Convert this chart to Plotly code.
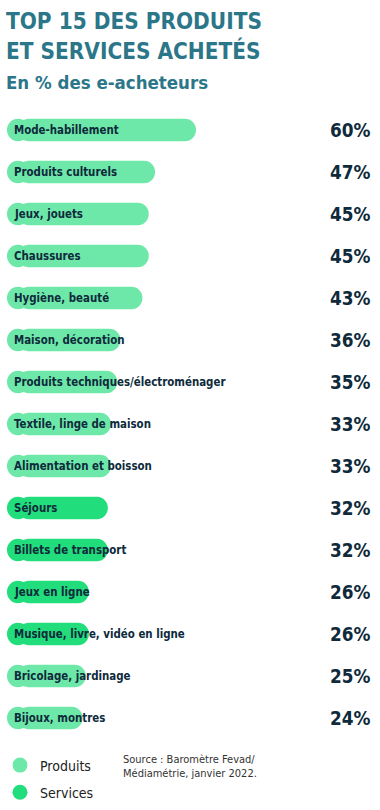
import plotly.graph_objects as go

categories = ["Mode-habillement", "Produits culturels", "Jeux, jouets", "Chaussures",
              "Hygiène, beauté", "Maison, décoration", "Produits techniques/électroménager",
              "Textile, linge de maison", "Alimentation et boisson", "Séjours",
              "Billets de transport", "Jeux en ligne", "Musique, livre, vidéo en ligne",
              "Bricolage, jardinage", "Bijoux, montres"]
values = [60, 47, 45, 45, 43, 36, 35, 33, 33, 32, 32, 26, 26, 25, 24]
types = ["Produits"] * 9 + ["Services"] * 4 + ["Produits"] * 2
value_labels = [f"{v}%" for v in values]
series_names = ["Produits", "Services"]
title_lines = ["TOP 15 DES PRODUITS", "ET SERVICES ACHETÉS"]
subtitle = "En % des e-acheteurs"
source_text = "Source : Baromètre Fevad/<br>Médiamétrie, janvier 2022."

colors = {"Produits": "#6EE8A9", "Services": "#22DD7B"}
TITLE_C = "#2B7688"
DARK = "#0E2A3B"
FONT = "DejaVu Sans, sans-serif"
W, H = 380, 810
PLOT_TOP = 109
ROW = 42
PLOT_H = H - PLOT_TOP
X_MAX = 116.2
X_LEFT, X_RIGHT = 7, 373
RADIUS_PX = 11
R = RADIUS_PX * X_MAX / (X_RIGHT - X_LEFT)  # corner radius in axis units


def cond(t, bold=False):
    s = f"<span style='font-stretch:condensed'>{t}</span>"
    return f"<b>{s}</b>" if bold else s


bar_colors = [colors[t] for t in types]
fig = go.Figure()
# left rounded caps (negative-direction bars so their outer end is rounded)
fig.add_trace(go.Bar(
    x=[-2 * R] * len(values), base=[2 * R] * len(values), y=categories,
    orientation="h", marker=dict(color=bar_colors, line=dict(width=0)),
    width=0.53, showlegend=False, hoverinfo="skip",
))
# main bars from inside the cap to the value (total pill length = value)
fig.add_trace(go.Bar(
    x=[v - R for v in values], base=[R] * len(values), y=categories, orientation="h",
    marker=dict(color=bar_colors, line=dict(width=0)),
    width=0.53, showlegend=False, customdata=values,
    hovertemplate="%{y}: %{customdata}%<extra></extra>",
))
for s in series_names:
    fig.add_trace(go.Scatter(
        x=[None], y=[None], mode="markers", name=cond(s), legendgroup=s,
        marker=dict(color=colors[s], size=15, symbol="circle"),
    ))

annotations = []
for c, lab in zip(categories, value_labels):
    annotations.append(dict(x=0, y=c, xref="x", yref="y", text=cond(c, True),
                            showarrow=False, xanchor="left", xshift=5,
                            font=dict(family=FONT, size=11.4, color=DARK)))
    annotations.append(dict(x=373 / W, y=c, xref="paper", yref="y", text=cond(lab, True),
                            showarrow=False, xanchor="right",
                            font=dict(family=FONT, size=18.8, color=DARK)))

for txt, yc, size in [(title_lines[0], 21, 22.4), (title_lines[1], 50, 22.4), (subtitle, 82, 18.5)]:
    annotations.append(dict(x=4 / W, y=1, xref="paper", yref="paper", xanchor="left",
                            yanchor="middle", yshift=PLOT_TOP - yc, showarrow=False,
                            text=cond(txt, True),
                            font=dict(family=FONT, size=size, color=TITLE_C)))
annotations.append(dict(x=121 / W, y=(H - 751) / PLOT_H, xref="paper", yref="paper",
                        xanchor="left", yanchor="top", align="left", showarrow=False,
                        text=cond(source_text),
                        font=dict(family=FONT, size=11, color="#333333")))

fig.update_layout(
    width=W, height=H,
    margin=dict(l=0, r=0, t=PLOT_TOP, b=0),
    paper_bgcolor="white", plot_bgcolor="white",
    barmode="overlay",
    barcornerradius=RADIUS_PX,
    xaxis=dict(range=[0, X_MAX], visible=False, fixedrange=True,
               domain=[X_LEFT / W, X_RIGHT / W]),
    yaxis=dict(visible=False, fixedrange=True, range=[PLOT_H / ROW - 0.5, -0.5],
               autorange=False),
    annotations=annotations,
    legend=dict(x=0, y=(H - 749.5) / PLOT_H, xanchor="left", yanchor="top",
                font=dict(family=FONT, size=14, color="#222222"),
                bgcolor="rgba(0,0,0,0)", tracegroupgap=6),
    showlegend=True,
)
fig.write_html("out.html", config={"displayModeBar": False},
               post_script="document.body.style.margin='0';document.body.style.overflow='hidden';")
